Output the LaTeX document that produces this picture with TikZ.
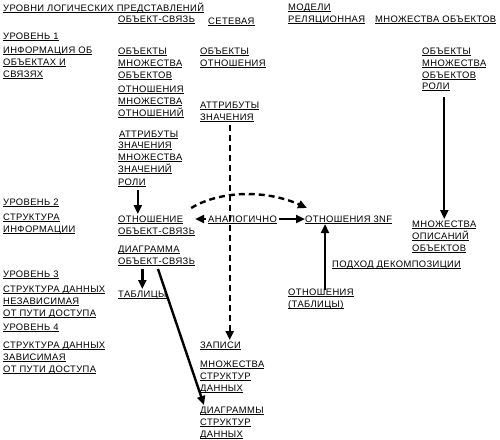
\documentclass[tikz,border=0pt]{standalone}
\usepackage{fontspec}
\setmainfont{Liberation Sans}[LetterSpace=4]
\usetikzlibrary{arrows.meta}

% underlined line of text, each line on its own
\newcommand\ul[1]{\setbox0\hbox{#1}\rlap{\rule[-1.6pt]{\wd0}{1pt}}\rule{0pt}{8pt}\box0}

\begin{document}
\begin{tikzpicture}[x=1pt, y=-1pt,
    lbl/.style={anchor=north west, inner sep=0pt, align=left,
                font=\fontsize{9.4}{12}\selectfont},
    arr/.style={line width=2.4pt, -{Triangle[length=9pt, width=8pt]}},
    darr/.style={line width=2.4pt, dash pattern=on 6pt off 4pt,
                 -{Triangle[length=9pt, width=8pt]}}]
    \useasboundingbox (0,0) rectangle (500,439);

    % column heads
    \node [lbl] (title) at (3,3) {\ul{УРОВНИ ЛОГИЧЕСКИХ ПРЕДСТАВЛЕНИЙ}};
    \node [lbl] (hdrER) at (118,14) {\ul{ОБЪЕКТ-СВЯЗЬ}};
    \node [lbl] (hdrNet) at (208,16) {\ul{СЕТЕВАЯ}};
    \node [lbl] (hdrModels) at (288,2) {\ul{МОДЕЛИ}\\\ul{РЕЛЯЦИОННАЯ}};
    \node [lbl] (hdrSets) at (375,14) {\ul{МНОЖЕСТВА ОБЪЕКТОВ}};

    % levels
    \node [lbl] (lvlA) at (3,31) {\ul{УРОВЕНЬ 1}};
    \node [lbl] (lvlAtxt) at (3,45) {\ul{ИНФОРМАЦИЯ ОБ}\\\ul{ОБЪЕКТАХ И}\\\ul{СВЯЗЯХ}};
    \node [lbl] (lvlB) at (3,197) {\ul{УРОВЕНЬ 2}};
    \node [lbl] (lvlBtxt) at (3,212) {\ul{СТРУКТУРА}\\\ul{ИНФОРМАЦИИ}};
    \node [lbl] (lvlC) at (3,269) {\ul{УРОВЕНЬ 3}};
    \node [lbl] (lvlCtxt) at (3,284) {\ul{СТРУКТУРА ДАННЫХ}\\\ul{НЕЗАВИСИМАЯ}\\\ul{ОТ ПУТИ ДОСТУПА}};
    \node [lbl] (lvlD) at (3,322) {\ul{УРОВЕНЬ 4}};
    \node [lbl] (lvlDtxt) at (3,340) {\ul{СТРУКТУРА ДАННЫХ}\\\ul{ЗАВИСИМАЯ}\\\ul{ОТ ПУТИ ДОСТУПА}};

    % entity-relationship column
    \node [lbl] (erObj) at (118,46) {\ul{ОБЪЕКТЫ}\\\ul{МНОЖЕСТВА}\\\ul{ОБЪЕКТОВ}};
    \node [lbl] (erRel) at (118,84) {\ul{ОТНОШЕНИЯ}\\\ul{МНОЖЕСТВА}\\\ul{ОТНОШЕНИЙ}};
    \node [lbl] (erAttr) at (119,129) {\ul{АТТРИБУТЫ}};
    \node [lbl] (erVal) at (118,140) {\ul{ЗНАЧЕНИЯ}\\\ul{МНОЖЕСТВА}\\\ul{ЗНАЧЕНИЙ}};
    \node [lbl] (erRole) at (118,177) {\ul{РОЛИ}};
    \node [lbl] (erRelation) at (118,214) {\ul{ОТНОШЕНИЕ}\\\ul{ОБЪЕКТ-СВЯЗЬ}};
    \node [lbl] (erDiagram) at (118,244) {\ul{ДИАГРАММА}\\\ul{ОБЪЕКТ-СВЯЗЬ}};
    \node [lbl] (erTables) at (118,289) {\ul{ТАБЛИЦЫ}};

    % network column
    \node [lbl] (netObj) at (200,46) {\ul{ОБЪЕКТЫ}\\\ul{ОТНОШЕНИЯ}};
    \node [lbl] (netAttr) at (200,100) {\ul{АТТРИБУТЫ}\\\ul{ЗНАЧЕНИЯ}};
    \node [lbl] (netAnalog) at (208,214) {\ul{АНАЛОГИЧНО}};
    \node [lbl] (netRecords) at (200,340) {\ul{ЗАПИСИ}};
    \node [lbl] (netSets) at (200,359) {\ul{МНОЖЕСТВА}\\\ul{СТРУКТУР}\\\ul{ДАННЫХ}};
    \node [lbl] (netDiagrams) at (200,405) {\ul{ДИАГРАММЫ}\\\ul{СТРУКТУР}\\\ul{ДАННЫХ}};

    % relational column
    \node [lbl] (relNF) at (305,214) {\ul{ОТНОШЕНИЯ 3NF}};
    \node [lbl] (relDecomp) at (332,259) {\ul{ПОДХОД ДЕКОМПОЗИЦИИ}};
    \node [lbl] (relTables) at (288,287) {\ul{ОТНОШЕНИЯ}\\\ul{(ТАБЛИЦЫ)}};

    % object sets column
    \node [lbl] (setObj) at (422,46) {\ul{ОБЪЕКТЫ}\\\ul{МНОЖЕСТВА}\\\ul{ОБЪЕКТОВ}};
    \node [lbl] (setRole) at (422,81) {\ul{РОЛИ}};
    \node [lbl] (setDescr) at (412,219) {\ul{МНОЖЕСТВА}\\\ul{ОПИСАНИЙ}\\\ul{ОБЪЕКТОВ}};

    \draw [arr] ([xshift=6pt, yshift=-3pt]erRole.south) -- ([xshift=6pt]erRole.south |- erRelation.north);
    \draw [arr] (erTables.north |- erDiagram.south) ++(0,3) -- (erTables.north);
    \draw [arr] ([xshift=-2pt]netAnalog.west) -- (netAnalog.west -| erRelation.east);
    \draw [arr] ([xshift=2pt]netAnalog.east) -- (relNF.west);
    \draw [arr] ([xshift=37pt, yshift=-3pt]relTables.north west) -- ([xshift=37pt]relTables.north west |- relNF.south);
    \draw [arr] ([yshift=-6pt]setDescr.north |- setRole.south) -- (setDescr.north);
    \draw [arr] ([xshift=40pt, yshift=-3pt]erDiagram.south west) -- ([xshift=4pt]netDiagrams.north west);
    \draw [darr] ([yshift=-3pt]netAttr.south) -- (netAttr.south |- netRecords.north);
    \draw [darr] ([xshift=-4pt, yshift=6pt]erRelation.north east)
        .. controls +(30,-18) and +(-40,-18) .. ([xshift=2pt, yshift=6pt]relNF.north west);
\end{tikzpicture}
\end{document}
